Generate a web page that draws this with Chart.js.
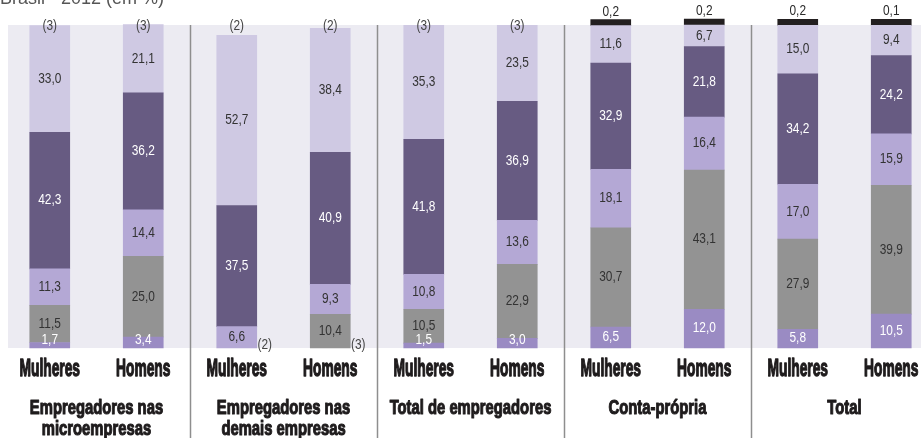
<!DOCTYPE html>
<html lang="pt-BR">
<head>
<meta charset="utf-8">
<title>Brasil - 2012 (em %)</title>
<script src="https://cdn.jsdelivr.net/npm/chart.js@4.4.1/dist/chart.umd.min.js"></script>
<style>
  html, body { margin: 0; padding: 0; background: #fff; overflow: hidden; }
  #wrap { position: relative; width: 940px; height: 438px; }
</style>
</head>
<body>
<div id="wrap"><canvas id="chart"></canvas></div>
<script>
// Categories and groups
const categorias = ['Mulheres', 'Homens', 'Mulheres', 'Homens', 'Mulheres', 'Homens', 'Mulheres', 'Homens', 'Mulheres', 'Homens'];
const grupos = [
    ['Empregadores nas', 'microempresas'],
    ['Empregadores nas', 'demais empresas'],
    ['Total de empregadores'],
    ['Conta-própria'],
    ['Total']
];

// Series values, from bottom to top (em %)
const faixa1 = [1.7, 3.4, null, null, 1.5, 3.0, 6.5, 12.0, 5.8, 10.5];
const faixa2 = [11.5, 25.0, null, 10.4, 10.5, 22.9, 30.7, 43.1, 27.9, 39.9];
const faixa3 = [11.3, 14.4, 6.6, 9.3, 10.8, 13.6, 18.1, 16.4, 17.0, 15.9];
const faixa4 = [42.3, 36.2, 37.5, 40.9, 41.8, 36.9, 32.9, 21.8, 34.2, 24.2];
const faixa5 = [33.0, 21.1, 52.7, 38.4, 35.3, 23.5, 11.6, 6.7, 15.0, 9.4];
const faixa6 = [null, null, null, null, null, null, 0.2, 0.2, 0.2, 0.1];

// Footnote markers
const notasTopo = ['(3)', '(3)', '(2)', '(2)', '(3)', '(3)', null, null, null, null];
const notasBase = [null, null, '(2)', '(3)', null, null, null, null, null, null];

const fonte = '"Liberation Sans", Arial, sans-serif';

function fmt(v) {
    return v.toFixed(1).replace('.', ',');
}

// Draws text squeezed horizontally to mimic a condensed face
function escreve(ctx, txt, x, y, fator, traco) {
    ctx.save();
    ctx.translate(x, y);
    ctx.scale(fator, 1);
    if (traco) {
        ctx.lineWidth = traco;
        ctx.lineJoin = 'round';
        ctx.strokeStyle = ctx.fillStyle;
        ctx.strokeText(txt, 0, 0);
    }
    ctx.fillText(txt, 0, 0);
    ctx.restore();
}

// Light background behind the bars, group separators and title
const fundo = {
    id: 'fundo',
    beforeDatasetsDraw(chart) {
        const {ctx, chartArea} = chart;
        const xs = chart.scales.x;
        ctx.save();
        ctx.fillStyle = '#ecebf2';
        ctx.fillRect(8, chartArea.top, chart.width - 8, chartArea.bottom - chartArea.top);

        ctx.strokeStyle = '#8e8e8e';
        ctx.lineWidth = 1.5;
        for (let i = 1; i < categorias.length - 1; i += 2) {
            const x = Math.round((xs.getPixelForValue(i) + xs.getPixelForValue(i + 1)) / 2) + 0.5;
            ctx.beginPath();
            ctx.moveTo(x, chartArea.top);
            ctx.lineTo(x, chart.height);
            ctx.stroke();
        }

        ctx.fillStyle = '#555';
        ctx.font = '18px ' + fonte;
        ctx.textAlign = 'left';
        ctx.textBaseline = 'alphabetic';
        ctx.fillText('Brasil - 2012 (em %)', 0, 4);
        ctx.restore();
    }
};

// Value labels, footnotes and axis texts
const rotulos = {
    id: 'rotulos',
    afterDatasetsDraw(chart) {
        const {ctx, chartArea} = chart;
        const xs = chart.scales.x;
        const xg = chart.scales.x2;
        ctx.save();
        ctx.font = '14px ' + fonte;
        ctx.textAlign = 'center';
        ctx.textBaseline = 'middle';

        chart.data.datasets.forEach((ds, di) => {
            const meta = chart.getDatasetMeta(di);
            meta.data.forEach((bar, i) => {
                const v = ds.data[i];
                if (v == null) return;
                if (di === 5) {
                    ctx.fillStyle = '#2b2b2b';
                    escreve(ctx, fmt(v), bar.x, bar.y - 8, 0.85);
                    return;
                }
                const y = Math.min((bar.y + bar.base) / 2, bar.base - 8);
                ctx.fillStyle = ds.corRotulo;
                escreve(ctx, fmt(v), bar.x, y, 0.85);
            });
        });

        ctx.fillStyle = '#444';
        notasTopo.forEach((n, i) => {
            if (!n) return;
            escreve(ctx, n, xs.getPixelForValue(i), chartArea.top + 1, 0.85);
        });
        notasBase.forEach((n, i) => {
            if (!n) return;
            escreve(ctx, n, xs.getPixelForValue(i) + 28, chartArea.bottom - 3, 0.85);
        });

        // category labels (Mulheres / Homens)
        ctx.fillStyle = '#1e1b1c';
        ctx.textBaseline = 'alphabetic';
        ctx.font = 'bold 23px ' + fonte;
        categorias.forEach((c, i) => {
            escreve(ctx, c, xs.getPixelForValue(i), chartArea.bottom + 28, 0.6, 1.3);
        });

        // group labels
        ctx.font = 'bold 20px ' + fonte;
        grupos.forEach((linhas, g) => {
            linhas.forEach((t, k) => {
                escreve(ctx, t, xg.getPixelForValue(g), chartArea.bottom + 66 + k * 21, 0.74, 1.1);
            });
        });
        ctx.restore();
    }
};

const base = {
    barThickness: 40,
    borderWidth: 0,
    clip: false
};

new Chart(document.getElementById('chart'), {
    type: 'bar',
    data: {
        labels: categorias,
        datasets: [
            { ...base, label: 'Faixa 1', data: faixa1, backgroundColor: '#9a8bc3', corRotulo: '#ffffff' },
            { ...base, label: 'Faixa 2', data: faixa2, backgroundColor: '#939393', corRotulo: '#333333' },
            { ...base, label: 'Faixa 3', data: faixa3, backgroundColor: '#b4a8d5', corRotulo: '#333333' },
            { ...base, label: 'Faixa 4', data: faixa4, backgroundColor: '#675b82', corRotulo: '#ffffff' },
            { ...base, label: 'Faixa 5', data: faixa5, backgroundColor: '#cfc9e3', corRotulo: '#333333' },
            { ...base, label: 'Faixa 6', data: faixa6, backgroundColor: '#231f20', corRotulo: '#333333', minBarLength: 6 }
        ]
    },
    options: {
        responsive: true,
        maintainAspectRatio: false,
        animation: false,
        layout: { padding: { top: 25, left: 3, right: 2, bottom: 0 } },
        plugins: {
            legend: { display: false },
            tooltip: { enabled: false }
        },
        scales: {
            x: {
                stacked: true,
                grid: { display: false, drawTicks: false },
                border: { display: false },
                ticks: { display: false },
                afterFit(scale) { scale.height = 34; }
            },
            x2: {
                type: 'category',
                labels: grupos,
                position: 'bottom',
                offset: true,
                grid: { display: false, drawTicks: false },
                border: { display: false },
                ticks: { display: false },
                afterFit(scale) { scale.height = 56; }
            },
            y: {
                stacked: true,
                display: false,
                min: 0,
                max: 100
            }
        }
    },
    plugins: [fundo, rotulos]
});
</script>
</body>
</html>
